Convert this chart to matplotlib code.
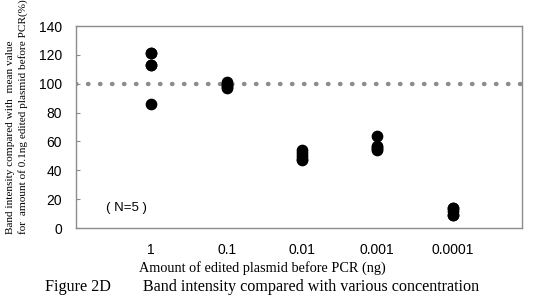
import matplotlib
matplotlib.use("Agg")
import matplotlib.pyplot as plt

# Data
categories = ["1", "0.1", "0.01", "0.001", "0.0001"]
values = [
    [121, 113, 86, 121, 113],
    [101, 100, 99, 98, 97],
    [54, 52, 50, 48, 47],
    [64, 57, 55, 54, 56],
    [14, 12, 9, 14, 9],
]
reference_level = 100

fig = plt.figure(figsize=(5.33, 3.03), dpi=100)
ax = fig.add_axes([0.1426, 0.2475, 0.8364, 0.6665])

for i, vals in enumerate(values):
    ax.scatter([i + 1] * len(vals), vals, s=55, color="black", zorder=3)

ax.axhline(reference_level, color="#8c8c8c", linestyle=(0, (0.1, 2.6)),
           linewidth=3.2, dash_capstyle="round", zorder=2)

ax.set_xlim(0, 5.92)
ax.set_ylim(0, 140)
ax.set_yticks(range(0, 141, 20))
ax.set_xticks(range(1, len(categories) + 1))
ax.set_xticklabels(categories)
ax.tick_params(axis="y", direction="in", length=3, color="#8c8c8c", labelsize=10, pad=10)
ax.tick_params(axis="x", length=0, labelsize=10, pad=11)
for lab in ax.get_xticklabels() + ax.get_yticklabels():
    lab.set_family("Liberation Sans")
for sp in ax.spines.values():
    sp.set_color("#8c8c8c")
    sp.set_linewidth(1)

ax.text(0.4, 12, "( N=5 )", fontsize=9.5, family="Liberation Sans")

ax.set_ylabel("Band intensity compared with  mean value\nfor  amount of 0.1ng edited plasmid before PCR(%)",
              family="Liberation Serif", fontsize=8.1, linespacing=1.4, multialignment="left")
ax.yaxis.set_label_coords(-0.108, 0.552)

fig.text(0.493, 0.115, "Amount of edited plasmid before PCR (ng)", ha="center", va="center",
         family="Liberation Serif", fontsize=10.3)
fig.text(0.492, 0.053, "Figure 2D        Band intensity compared with various concentration",
         ha="center", va="center", family="Liberation Serif", fontsize=11.6)

fig.savefig("out.png", dpi=100)
